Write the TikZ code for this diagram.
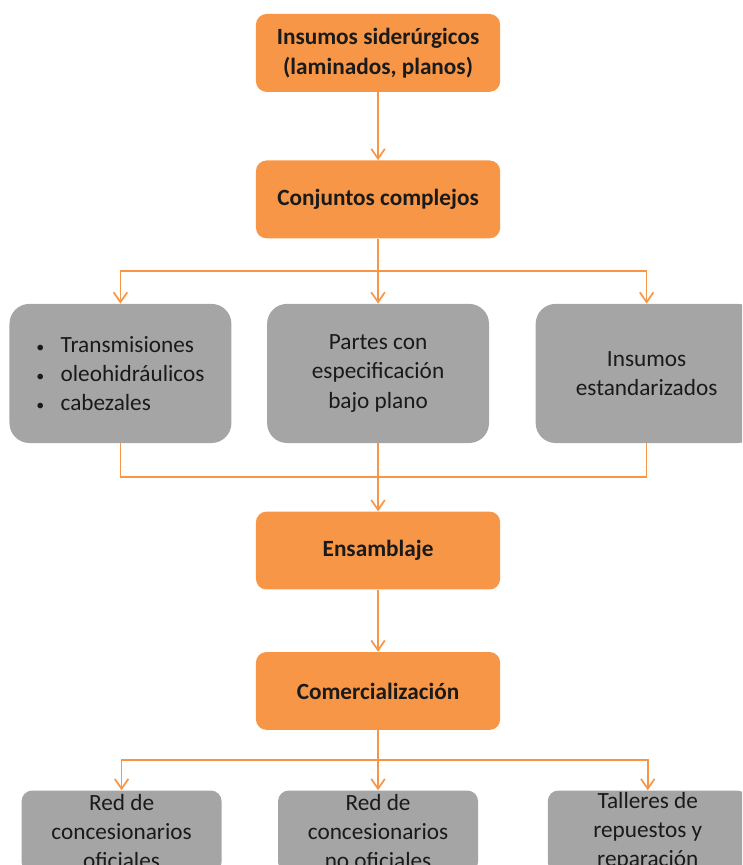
\documentclass[tikz,border=0pt]{standalone}
\usepackage{fontspec}
\setmainfont{Carlito}
\usepackage{xcolor}
\usepackage{tikz}
\usetikzlibrary{arrows.meta, positioning, calc}
\definecolor{chainorange}{HTML}{F79646}
\definecolor{chaingray}{HTML}{A5A5A5}
\definecolor{textblack}{HTML}{1A1A1A}
\newcommand{\itembullet}{{\fontsize{12}{12}\selectfont\textbullet}\hspace{0.7em}}

\begin{document}
\begin{tikzpicture}[
    node distance=1.7cm,
    every node/.style={font=\fontsize{17.5}{22}\selectfont, text=textblack},
    orangebox/.style={
        rectangle,
        rounded corners=8pt,
        fill=chainorange,
        minimum height=2.06cm,
        minimum width=6.46cm,
        align=center,
        font=\fontsize{17.5}{22.5}\selectfont\bfseries
    },
    graybox/.style={
        rectangle,
        rounded corners=15pt,
        fill=chaingray,
        minimum height=3.68cm,
        minimum width=5.87cm,
        align=center
    },
    endbox/.style={
        rectangle,
        rounded corners=8pt,
        fill=chaingray,
        minimum height=2.17cm,
        minimum width=5.29cm,
        inner sep=0pt,
        align=center
    },
    myarrow/.style={
        -{Straight Barb[length=2.6mm,width=3.6mm]},
        line width=1.3pt,
        draw=chainorange
    },
    myline/.style={
        line width=1.3pt,
        draw=chainorange
    }
]

% Frame of the page
\useasboundingbox (-10.0,1.40) rectangle (9.63,-21.48);
\clip (-10.0,1.40) rectangle (9.63,-21.48);

% Nodes - main chain
\node[orangebox] (insumos) {Insumos siderúrgicos\\(laminados, planos)};
\node[orangebox, below=1.8cm of insumos] (conjuntos) {Conjuntos complejos};

% Nodes - parts
\node[graybox, below=1.72cm of conjuntos] (partes) {Partes con\\especificación\\bajo plano};
\node[graybox, align=left, left=0.93cm of partes] (transmisiones)
    {\itembullet Transmisiones\\\itembullet oleohidráulicos\\\itembullet cabezales};
\node[graybox, right=1.22cm of partes] (estandar) {Insumos\\estandarizados};

\node[orangebox, below=1.8cm of partes] (ensamblaje) {Ensamblaje};
\node[orangebox, below=1.64cm of ensamblaje] (comercial) {Comercialización};

% Nodes - sales channels
\node[endbox, below=1.59cm of comercial] (nooficiales) {Red de\\concesionarios\\no oficiales};
\node[endbox, left=1.48cm of nooficiales] (oficiales) {Red de\\concesionarios\\oficiales};
\node[endbox, right=1.83cm of nooficiales] (talleres) {Talleres de\\repuestos y\\reparación};

% Branch points
\coordinate (reparto) at ($(conjuntos.south)!0.5!(partes.north)$);
\coordinate (union) at ($(partes.south)!0.5!(ensamblaje.north)$);
\coordinate (venta) at ($(comercial.south)!0.5!(nooficiales.north)$);

% Arrows
\draw[myarrow] (insumos) -- (conjuntos);
\draw[myarrow] (conjuntos) -- (partes);
\draw[myarrow] (reparto) -| (transmisiones.north);
\draw[myarrow] (reparto) -| (estandar.north);
\draw[myline] (transmisiones.south) |- (union);
\draw[myline] (estandar.south) |- (union);
\draw[myarrow] (partes) -- (ensamblaje);
\draw[myarrow] (ensamblaje) -- (comercial);
\draw[myarrow] (comercial) -- (nooficiales);
\draw[myarrow] (venta) -| (oficiales.north);
\draw[myarrow] (venta) -| (talleres.north);

\end{tikzpicture}
\end{document}
